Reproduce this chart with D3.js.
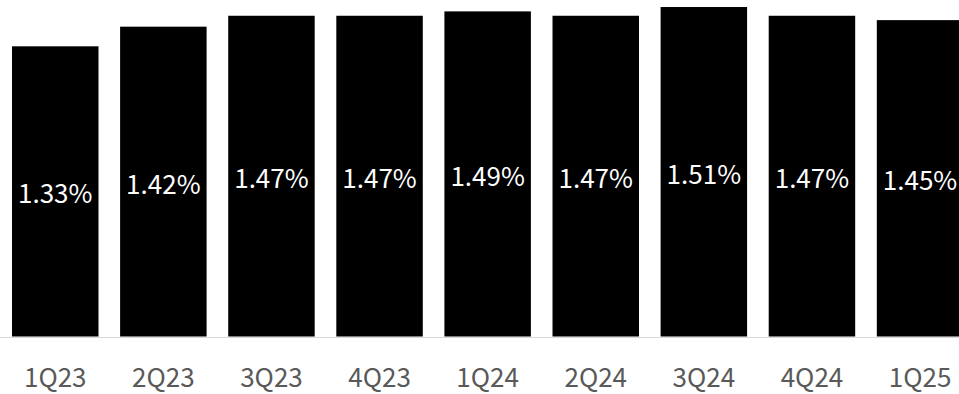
<!DOCTYPE html>
<html><head><meta charset="utf-8">
<script src="https://cdn.jsdelivr.net/npm/d3@7"></script>
<style>html,body{margin:0;padding:0;background:#fff;overflow:hidden}</style>
</head><body>
<svg id="c" width="959" height="394"></svg>
<script>
const categories = ["1Q23","2Q23","3Q23","4Q23","1Q24","2Q24","3Q24","4Q24","1Q25"];
const values = [1.33,1.42,1.47,1.47,1.49,1.47,1.51,1.47,1.45];
const valueLabels = ["1.33%","1.42%","1.47%","1.47%","1.49%","1.47%","1.51%","1.47%","1.45%"];

const svg = d3.select("#c");
const font = "'Noto Sans CJK JP','Noto Sans',sans-serif";
const x = d3.scaleBand().domain(categories).range([1.2, 1.2 + 9*108.1]).paddingInner(0.2).paddingOuter(0.1);
const y = d3.scaleLinear().domain([0, 1.33]).range([336.5, 46.3]);

svg.append("g").selectAll("rect").data(categories).join("rect")
  .attr("x", d => x(d)).attr("width", x.bandwidth())
  .attr("y", (d,i) => y(values[i])).attr("height", (d,i) => y(0) - y(values[i]))
  .attr("fill", "#000");

svg.append("line").attr("x1", 0).attr("x2", 959).attr("y1", 337.5).attr("y2", 337.5)
  .attr("stroke", "#d9d9d9").attr("stroke-width", 1.2);

svg.append("g").selectAll("text").data(categories).join("text")
  .attr("x", d => x(d) + x.bandwidth()/2)
  .attr("y", (d,i) => (y(values[i]) + y(0))/2 + 0.5)
  .attr("text-anchor", "middle").attr("dominant-baseline", "central")
  .attr("fill", "#fff").style("font-family", font).style("font-size", "26px").style("font-weight", 400)
  .text((d,i) => valueLabels[i]);

const ax = svg.append("g").attr("transform", "translate(0,375)")
  .call(d3.axisBottom(x).tickSize(0).tickPadding(0));
ax.select(".domain").remove();
ax.selectAll("text").attr("dy", null).attr("dominant-baseline", "central")
  .attr("fill", "#595959").style("font-family", font).style("font-size", "26px").style("font-weight", 400);
</script>
</body></html>
